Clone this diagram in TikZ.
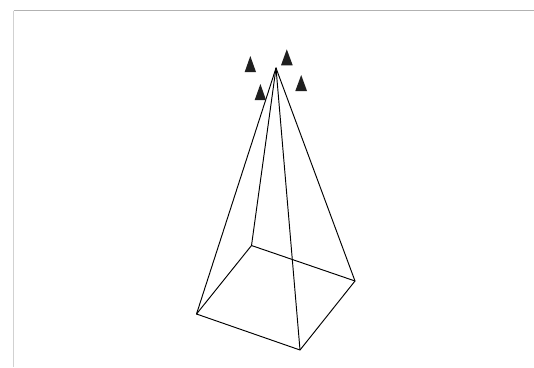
\documentclass[tikz,border=0pt]{standalone}
\begin{document}
\begin{tikzpicture}[x=1pt,y=-1pt,
  edge/.style={draw=black,line width=0.95pt,line join=round,line cap=round},
  marker/.style={fill=black!88,draw=none},
  frametop/.style={draw=black!30,line width=1pt},
  frameleft/.style={draw=black!18,line width=1.3pt}]
\useasboundingbox (0,0) rectangle (534,367);
\fill[white] (0,0) rectangle (534,367);
\coordinate (tl) at (13.5,10.5);
\coordinate (tr) at (534,10.5);
\coordinate (bl) at (13.5,367);
\draw[frametop] (tl) -- (tr);
\draw[frameleft] (tl) -- (bl);
\coordinate (A) at (196.5,314);
\coordinate (B) at (300,350);
\coordinate (C) at (355,281);
\coordinate (D) at (251.5,245.5);
\coordinate (P) at (276,68);
\draw[edge] (A) -- (B) -- (C) -- (D) -- cycle;
\draw[edge] (P) -- (A);
\draw[edge] (P) -- (B);
\draw[edge] (P) -- (C);
\draw[edge] (P) -- (D);
\fill[marker] (250.3,56) -- (256,72) -- (244.7,72) -- cycle;
\fill[marker] (286.8,49.3) -- (292.7,65.3) -- (281,65.3) -- cycle;
\fill[marker] (301.2,75) -- (307,91) -- (295.3,91) -- cycle;
\fill[marker] (260.4,84) -- (266,100) -- (254.7,100) -- cycle;
\end{tikzpicture}
\end{document}
